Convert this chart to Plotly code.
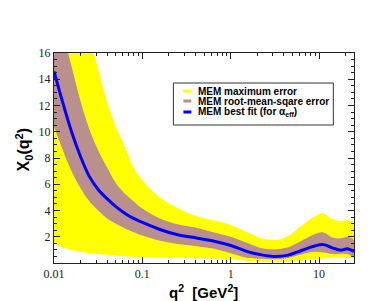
import plotly.graph_objects as go

# q^2 grid [GeV^2]
q2 = [0.01, 0.0126, 0.0158, 0.02, 0.0251, 0.0316, 0.0398, 0.0501, 0.0631, 0.0794,
      0.1, 0.158, 0.251, 0.398, 0.631, 1.0, 1.58, 2.24, 3.16, 4.47, 6.31, 8.91,
      11.2, 14.1, 17.8, 20.9, 24.8]

best_fit = [14.6, 12.2, 10.0, 8.1, 6.6, 5.6, 4.9, 4.3, 3.8, 3.4,
            3.1, 2.55, 2.15, 1.92, 1.68, 1.33, 0.85, 0.62, 0.5, 0.6, 0.95, 1.3,
            1.4, 1.15, 0.98, 1.08, 0.88]

rms_upper = [20.5, 17.5, 15.0, 12.3, 10.2, 8.6, 7.3, 6.1, 5.3, 4.7,
             4.15, 3.4, 2.95, 2.7, 2.35, 2.0, 1.5, 1.12, 1.05, 1.2, 1.7, 2.2,
             2.33, 1.95, 1.88, 2.0, 1.75]
rms_lower = [10.4, 8.6, 7.0, 5.7, 4.7, 4.0, 3.4, 3.0, 2.65, 2.35,
             2.1, 1.7, 1.45, 1.3, 1.1, 0.75, 0.38, 0.32, 0.28, 0.38, 0.65, 0.85,
             0.8, 0.68, 0.7, 0.68, 0.48]

max_upper = [40.0, 30.0, 24.0, 20.0, 17.3, 14.8, 12.3, 10.4, 8.9, 7.3,
             6.3, 5.0, 4.2, 3.6, 3.25, 2.9, 2.3, 1.88, 1.75, 2.05, 2.85, 3.55,
             3.78, 3.35, 3.2, 3.25, 3.1]
max_lower = [1.5, 1.2, 1.0, 0.85, 0.75, 0.68, 0.62, 0.56, 0.52, 0.48,
             0.45, 0.42, 0.4, 0.37, 0.35, 0.3, 0.15, 0.1, 0.1, 0.12, 0.2, 0.32,
             0.35, 0.4, 0.42, 0.42, 0.4]

x_ticks = [0.01, 0.1, 1, 10]
x_ticktext = ["0.01", "0.1", "1", "10"]
y_ticks = [2, 4, 6, 8, 10, 12, 14, 16]

legend_labels = ["MEM maximum error", "MEM root-mean-sqare error",
                 "MEM best fit (for α<sub>eff</sub>)"]
colors = ["#FFFF00", "#BC8F8F", "#0000FF"]

fig = go.Figure()
fig.add_trace(go.Scatter(x=q2 + q2[::-1], y=max_upper + max_lower[::-1], fill="toself",
                         fillcolor=colors[0], line=dict(width=0, color=colors[0], shape="spline"),
                         mode="lines", hoverinfo="skip", showlegend=False))
fig.add_trace(go.Scatter(x=q2 + q2[::-1], y=rms_upper + rms_lower[::-1], fill="toself",
                         fillcolor=colors[1], line=dict(width=0, color=colors[1], shape="spline"),
                         mode="lines", hoverinfo="skip", showlegend=False))
fig.add_trace(go.Scatter(x=q2, y=best_fit, mode="lines",
                         line=dict(color=colors[2], width=3, shape="spline"), showlegend=False))

minor_x = [m * d for d in [0.01, 0.1, 1, 10] for m in range(2, 10) if m * d < 25]

tick_font = dict(family="Liberation Serif, Times New Roman, serif", size=12, color="#222")
fig.update_xaxes(type="log", range=[-2, 1.395], tickvals=x_ticks, ticktext=x_ticktext,
                 ticks="inside", ticklen=6, tickcolor="#222", showline=True, linecolor="#222",
                 linewidth=1, mirror="ticks", showgrid=False, zeroline=False,
                 tickfont=tick_font,
                 minor=dict(tickvals=minor_x, ticks="inside", ticklen=3, tickcolor="#222", showgrid=False))
fig.update_yaxes(range=[0, 16], tickvals=y_ticks, ticks="inside", ticklen=6, tickcolor="#222",
                 showline=True, linecolor="#222", linewidth=1, mirror="ticks", showgrid=False,
                 zeroline=False, tickfont=tick_font,
                 minor=dict(dtick=0.5, ticks="inside", ticklen=3, tickcolor="#222", showgrid=False))

W, H = 389, 301
L, R, T, B = 45.5, 345.7, 45, 255
pw, ph = R - L, B - T

def px(x):
    return (x - L) / pw

def py(y):
    return (B - y) / ph

annotations = [
    dict(text="<b>X<sub>0</sub>(q<sup>2</sup>)</b>", x=px(15), y=py(142), xref="paper", yref="paper",
         textangle=-90, showarrow=False, font=dict(family="Liberation Sans", size=16, color="black"),
         xanchor="center", yanchor="middle"),
    dict(text="<b>q<sup>2</sup>  [GeV<sup>2</sup>]</b>", x=px(195.5), y=py(283), xref="paper", yref="paper",
         showarrow=False, font=dict(family="Liberation Sans", size=15, color="black"),
         xanchor="center", yanchor="middle"),
]
shapes = [dict(type="rect", xref="paper", yref="paper", x0=px(165), x1=px(325), y0=py(117), y1=py(75),
               line=dict(color="#333", width=1), fillcolor="white")]
rows = [83, 93, 104]
for lab, col, r in zip(legend_labels, colors, rows):
    shapes.append(dict(type="line", xref="paper", yref="paper", x0=px(175), x1=px(183),
                       y0=py(r), y1=py(r), line=dict(color=col, width=3)))
    annotations.append(dict(text="<b>" + lab + "</b>", x=px(188), y=py(r), xref="paper", yref="paper",
                            showarrow=False, xanchor="left", yanchor="middle",
                            font=dict(family="Liberation Sans", size=10, color="black")))

fig.update_layout(width=W, height=H, margin=dict(l=L, r=W - R, t=T, b=H - B),
                  plot_bgcolor="white", paper_bgcolor="white", showlegend=False,
                  annotations=annotations, shapes=shapes)

fig.write_html("out.html")
